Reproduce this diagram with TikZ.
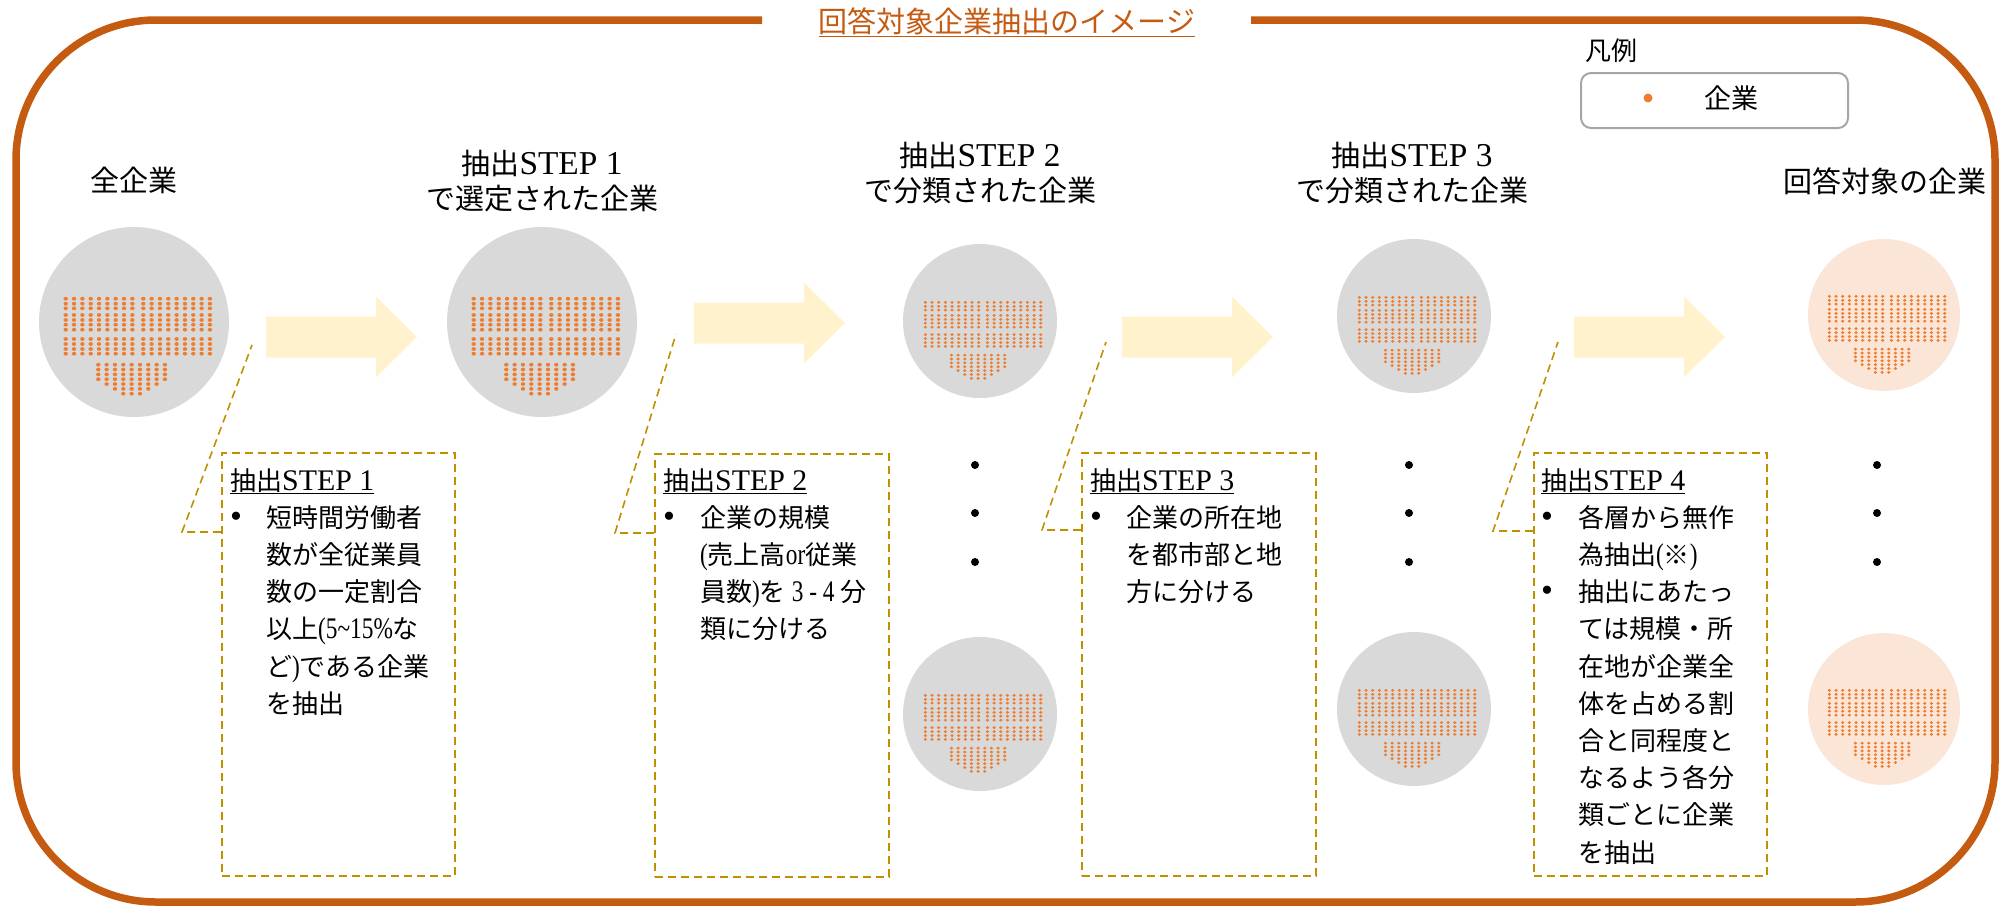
\documentclass[tikz,border=0pt]{standalone}
\usepackage{fontspec}
\setmainfont{Liberation Serif}
\newfontfamily\jp{Noto Sans CJK JP}
\newfontfamily\lat[Scale=1.15]{Liberation Serif}
\newfontfamily\latn[Scale=1.15,FakeStretch=0.78]{Liberation Serif}
\newcommand\bul{{\fontsize{34}{34}\selectfont\rmfamily\textbullet}}
\definecolor{frameorange}{HTML}{C55A11}
\definecolor{dotorange}{HTML}{ED7D31}
\definecolor{circgray}{HTML}{D9D9D9}
\definecolor{peach}{HTML}{FBE5D6}
\definecolor{arrowyellow}{HTML}{FFF2CC}
\definecolor{goldline}{HTML}{BF9000}
\definecolor{legendgray}{HTML}{A6A6A6}
\tikzset{
  frame/.style={draw=frameorange, line width=7.5pt, rounded corners=140pt},
  bigcirc/.style={circle, fill=circgray, minimum size=190pt, inner sep=0pt},
  smallcirc/.style={circle, fill=circgray, minimum size=154pt, inner sep=0pt},
  peachcirc/.style={circle, fill=peach, minimum size=152pt, inner sep=0pt},
  ellip/.style={circle, fill=black, minimum size=8pt, inner sep=0pt},
  calloutbox/.style={draw=goldline, line width=1.6pt, dash pattern=on 8pt off 5pt, inner sep=0pt, anchor=north west},
  callout/.style={draw=goldline, line width=1.6pt, dash pattern=on 8pt off 5pt},
  heading/.style={font=\fontsize{29}{35}\selectfont\jp, align=center, inner sep=0pt},
  boxtext/.style={font=\fontsize{26}{37.2}\selectfont\jp, align=left, inner sep=0pt, anchor=north west},
  dotgrid/.pic={
    \foreach \r in {-23.3,-18.3,-13.7,-7,-2,2.7,7.7,17,22,27,31.7}{
      \foreach \i in {0,...,8}{
        \fill[dotorange] ({-68.3+8.33*\i},\r) ellipse (2.2 and 1.9);
        \fill[dotorange] ({9.3+8.33*\i},\r) ellipse (2.2 and 1.9);
      }
    }
    \foreach \j/\n in {0/4,1/5,2/6,3/7,4/7,5/7,6/6,7/5,8/4}{
      \foreach \k in {1,...,\n}{
        \fill[dotorange] ({-35.7+8.33*\j},{37.87+4.83*\k}) ellipse (2.2 and 1.9);
      }
    }
  },
  barrow/.pic={
    \fill[arrowyellow] (0,-20.5) -- (110,-20.5) -- (110,-40.5) -- (151,0) -- (110,40.5) -- (110,20.5) -- (0,20.5) -- cycle;
  }
}
\begin{document}
\begin{tikzpicture}[x=1pt,y=-1pt]
\useasboundingbox (0,0) rectangle (2003,906);

% frame
\draw[frame] (762,20) -- (16,20) -- (16,902) -- (1995,902) -- (1995,20) -- (1251,20);
\node[font=\fontsize{29}{29}\selectfont\jp, text=frameorange, inner sep=0pt, anchor=base] (title) at (1007,32) {\underline{回答対象企業抽出のイメージ}};

% legend
\node[font=\fontsize{26}{26}\selectfont\jp, inner sep=0pt] (legtitle) at (1611,51) {凡例};
\node[draw=legendgray, line width=2pt, rounded corners=10pt, minimum width=267pt, minimum height=55pt, inner sep=0pt] (leg) at (1714.5,100.5) {};
\node[circle, fill=dotorange, minimum size=9pt, inner sep=0pt] (legdot) at (1648,98) {};
\node[font=\fontsize{27}{27}\selectfont\jp, inner sep=0pt] (legtext) at (1731,98) {企業};

% headings
\node[heading] (h0) at (134,180) {全企業};
\node[heading] (h1) at (542,181) {抽出{\lat STEP 1}\\で選定された企業};
\node[heading] (h2) at (980,173.5) {抽出{\lat STEP 2}\\で分類された企業};
\node[heading] (h3) at (1412,173.5) {抽出{\lat STEP 3}\\で分類された企業};
\node[heading] (h4) at (1885,181) {回答対象の企業};

% circles
\node[bigcirc] (c1) at (134,322) {};
\pic at (c1.center) {dotgrid};
\node[bigcirc] (c2) at (542,322) {};
\pic at (c2.center) {dotgrid};
\node[smallcirc] (c3) at (980,321) {};
\pic[scale=0.8] at (c3.center) {dotgrid};
\node[smallcirc] (c4) at (980,714) {};
\pic[scale=0.8] at (c4.center) {dotgrid};
\node[smallcirc] (c5) at (1414,316) {};
\pic[scale=0.8] at (c5.center) {dotgrid};
\node[smallcirc] (c6) at (1414,709) {};
\pic[scale=0.8] at (c6.center) {dotgrid};
\node[peachcirc] (c7) at (1884,315) {};
\pic[scale=0.8] at (c7.center) {dotgrid};
\node[peachcirc] (c8) at (1884,709) {};
\pic[scale=0.8] at (c8.center) {dotgrid};

% vertical ellipses
\node[ellip] (e1) at (975,465) {};
\node[ellip] (e2) at (975,513) {};
\node[ellip] (e3) at (975,562) {};
\node[ellip] (e4) at (1409,465) {};
\node[ellip] (e5) at (1409,513) {};
\node[ellip] (e6) at (1409,562) {};
\node[ellip] (e7) at (1877,465) {};
\node[ellip] (e8) at (1877,513) {};
\node[ellip] (e9) at (1877,562) {};

% block arrows
\pic at (266,337) {barrow};
\pic at (694,323) {barrow};
\pic at (1122,337) {barrow};
\pic at (1574,337) {barrow};

% callout boxes
\node[calloutbox, minimum width=233pt, minimum height=423pt] (b1) at (221,452) {};
\node[calloutbox, minimum width=234pt, minimum height=423pt] (b2) at (654,453) {};
\node[calloutbox, minimum width=234pt, minimum height=423pt] (b3) at (1081,452) {};
\node[calloutbox, minimum width=233pt, minimum height=423pt] (b4) at (1533,452) {};

\coordinate (p1) at (252,345);
\coordinate (p2) at (676,334);
\coordinate (p3) at (1106,342);
\coordinate (p4) at (1558,342);
\draw[callout] (b1.west |- 0,532) -- (182,532) -- (p1);
\draw[callout] (b2.west |- 0,533) -- (615,533) -- (p2);
\draw[callout] (b3.west |- 0,530) -- (1042,530) -- (p3);
\draw[callout] (b4.west |- 0,531) -- (1493,531) -- (p4);

% box texts
\node[boxtext] (t1) at (230,468) {\underline{抽出{\lat STEP 1}}\\%
\makebox[36pt][l]{\bul}短時間労働者\\%
\hspace*{36pt}数が全従業員\\%
\hspace*{36pt}数の一定割合\\%
\hspace*{36pt}以上{\latn(5\string~15\%}な\\%
\hspace*{36pt}ど{\latn)}である企業\\%
\hspace*{36pt}を抽出};

\node[boxtext] (t2) at (663,468) {\underline{抽出{\lat STEP 2}}\\%
\makebox[37pt][l]{\bul}企業の規模\\%
\hspace*{37pt}{\latn(}売上高{\latn or}従業\\%
\hspace*{37pt}員数{\latn)}を{\latn\ 3 - 4 }分\\%
\hspace*{37pt}類に分ける};

\node[boxtext] (t3) at (1090,468) {\underline{抽出{\lat STEP 3}}\\%
\makebox[36pt][l]{\bul}企業の所在地\\%
\hspace*{36pt}を都市部と地\\%
\hspace*{36pt}方に分ける};

\node[boxtext] (t4) at (1541,468) {\underline{抽出{\lat STEP 4}}\\%
\makebox[37pt][l]{\bul}各層から無作\\%
\hspace*{37pt}為抽出{\latn(}※{\latn)}\\%
\makebox[37pt][l]{\bul}抽出にあたっ\\%
\hspace*{37pt}ては規模・所\\%
\hspace*{37pt}在地が企業全\\%
\hspace*{37pt}体を占める割\\%
\hspace*{37pt}合と同程度と\\%
\hspace*{37pt}なるよう各分\\%
\hspace*{37pt}類ごとに企業\\%
\hspace*{37pt}を抽出};

\end{tikzpicture}
\end{document}
